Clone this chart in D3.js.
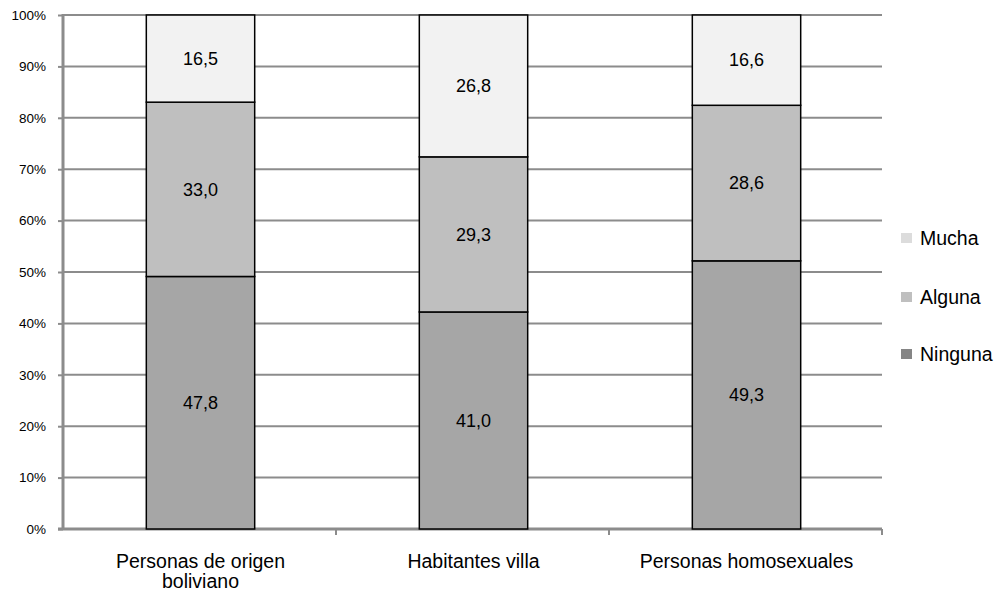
<!DOCTYPE html>
<html><head><meta charset="utf-8">
<script src="https://cdn.jsdelivr.net/npm/d3@7"></script>
<style>body{margin:0;background:#fff}svg{display:block}text{font-family:"Liberation Sans",Arial,sans-serif}</style>
</head><body><svg id="c" width="997" height="591"></svg>
<script>
const categories = ["Personas de origen boliviano", "Habitantes villa", "Personas homosexuales"];
const categoryLines = [["Personas de origen", "boliviano"], ["Habitantes villa"], ["Personas homosexuales"]];
const seriesNames = ["Ninguna", "Alguna", "Mucha"];
const ninguna = [47.8, 41.0, 49.3];
const alguna = [33.0, 29.3, 28.6];
const mucha = [16.5, 26.8, 16.6];
const yTicks = [0, 10, 20, 30, 40, 50, 60, 70, 80, 90, 100];

const barColors = {Ninguna: "#a6a6a6", Alguna: "#bfbfbf", Mucha: "#f2f2f2"};
const legendColors = {Ninguna: "#858585", Alguna: "#bfbfbf", Mucha: "#dcdcdc"};

const svg = d3.select("#c");
const pLeft = 63, pRight = 882, pTop = 15, pBottom = 529;
const x = d3.scaleBand().domain(categories).range([pLeft, pRight]);
const y = d3.scaleLinear().domain([0, 100]).range([pBottom, pTop]);

// gridlines
svg.append("g").selectAll("line").data(yTicks.filter(d => d > 0)).join("line")
  .attr("x1", pLeft).attr("x2", pRight).attr("y1", d => y(d)).attr("y2", d => y(d))
  .attr("stroke", "#8c8c8c").attr("stroke-width", 2);

// y axis
const ya = svg.append("g").attr("transform", `translate(${pLeft},0)`)
  .call(d3.axisLeft(y).tickValues(yTicks).tickFormat(d => d + "%").tickSize(5).tickPadding(12));
ya.select(".domain").remove();
ya.selectAll(".tick line").attr("stroke", "#8c8c8c").attr("stroke-width", 2);
ya.selectAll(".tick text").attr("font-size", 13.5).attr("fill", "#000");
svg.append("line").attr("x1", pLeft).attr("x2", pLeft).attr("y1", pTop - 1).attr("y2", pBottom + 1)
  .attr("stroke", "#8c8c8c").attr("stroke-width", 3);

// x axis
svg.append("line").attr("x1", pLeft - 5).attr("x2", pRight).attr("y1", pBottom).attr("y2", pBottom)
  .attr("stroke", "#8c8c8c").attr("stroke-width", 3);
const xTickPos = categories.map(c => x(c) + x.bandwidth());
svg.append("g").selectAll("line").data(xTickPos).join("line")
  .attr("x1", d => d).attr("x2", d => d).attr("y1", pBottom).attr("y2", pBottom + 6)
  .attr("stroke", "#8c8c8c").attr("stroke-width", 2);

// stacked data (normalized to 100%)
const rows = categories.map((c, i) => ({cat: c, Ninguna: ninguna[i], Alguna: alguna[i], Mucha: mucha[i]}));
const stack = d3.stack().keys(seriesNames).offset(d3.stackOffsetExpand);
const series = stack(rows);
const bw = x.bandwidth() * 0.397;

series.forEach(s => {
  const g = svg.append("g");
  g.selectAll("rect").data(s).join("rect")
    .attr("x", d => x(d.data.cat) + x.bandwidth() / 2 - bw / 2 + 1)
    .attr("width", bw)
    .attr("y", d => y(d[1] * 100))
    .attr("height", d => y(d[0] * 100) - y(d[1] * 100))
    .attr("fill", barColors[s.key]).attr("stroke", "#000").attr("stroke-width", 1.5);
  g.selectAll("text").data(s).join("text")
    .attr("x", d => x(d.data.cat) + x.bandwidth() / 2 + 1)
    .attr("y", d => y((d[0] + d[1]) / 2 * 100))
    .attr("dy", "0.35em").attr("text-anchor", "middle")
    .attr("font-size", 18).attr("fill", "#000")
    .text(d => d.data[s.key].toFixed(1).replace(".", ","));
});

// category labels
categories.forEach((c, i) => {
  const t = svg.append("text").attr("text-anchor", "middle").attr("font-size", 19.5).attr("fill", "#000");
  categoryLines[i].forEach((ln, j) => {
    t.append("tspan").attr("x", x(c) + x.bandwidth() / 2 + 1).attr("y", 568 + j * 20).text(ln);
  });
});

// legend
const legendItems = ["Mucha", "Alguna", "Ninguna"];
const legendY = [238, 297, 354];
legendItems.forEach((k, i) => {
  svg.append("rect").attr("x", 901).attr("y", legendY[i] - 5).attr("width", 11).attr("height", 10)
    .attr("fill", legendColors[k]);
  svg.append("text").attr("x", 920).attr("y", legendY[i]).attr("dy", "0.35em")
    .attr("font-size", 19.5).attr("fill", "#000").text(k);
});
</script></body></html>
